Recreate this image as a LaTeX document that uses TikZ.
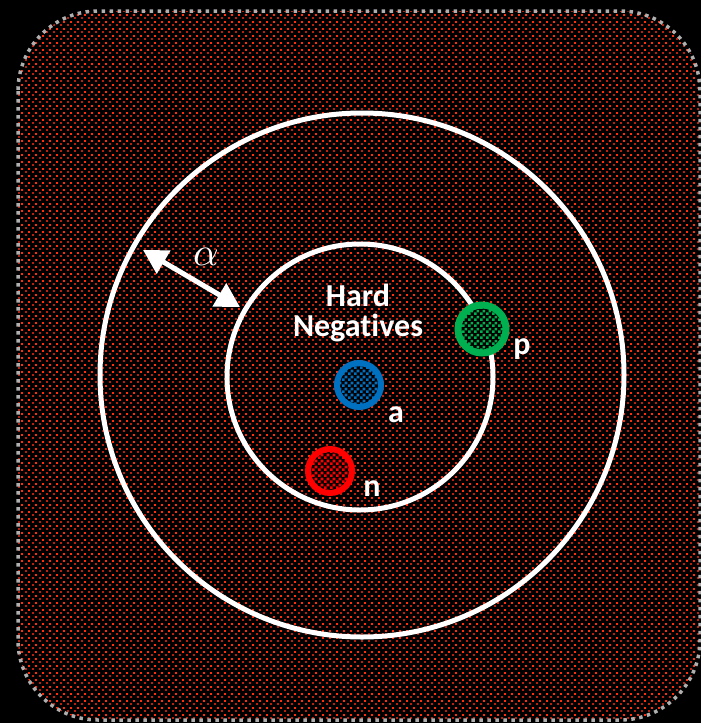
\documentclass[tikz,border=0pt]{standalone}
\usepackage{fontspec}
\setmainfont{Carlito}[Ligatures=NoCommon]
\usepackage{tikz}
\usetikzlibrary{positioning,calc}
\usetikzlibrary{arrows.meta,patterns,patterns.meta}
\definecolor{DotRed}{RGB}{255,45,10}
\definecolor{DotDim}{RGB}{185,32,14}
\definecolor{PtBlue}{RGB}{0,112,192}
\definecolor{PtGreen}{RGB}{0,176,80}
\definecolor{PtRed}{RGB}{255,0,0}
\definecolor{EdgeGray}{RGB}{175,175,175}

\tikzdeclarepattern{
  name=reddots,
  type=colored,
  bottom left={(-.1pt,-.1pt)},
  top right={(7.1pt,7.1pt)},
  tile size={(7pt,7pt)},
  code={
    \fill[DotRed] (0pt,0pt) rectangle (2.4pt,2.4pt);
    \fill[DotDim] (3.5pt,3.5pt) rectangle (5.8pt,5.8pt);
  }
}
\tikzdeclarepattern{
  name=finechecker,
  type=uncolored,
  bottom left={(0pt,0pt)},
  top right={(6pt,6pt)},
  tile size={(6pt,6pt)},
  code={
    \fill (0pt,0pt) rectangle (3pt,3pt);
    \fill (3pt,3pt) rectangle (6pt,6pt);
  }
}

\begin{document}
\begin{tikzpicture}[x=1pt,y=-1pt,
    ring/.style={draw=white,line width=5pt},
    point/.style={circle,line width=6pt,minimum size=44pt,inner sep=0pt,preaction={fill=black}},
    lbl/.style={text=white,font=\fontsize{32}{34}\selectfont\bfseries}]
				\fill[black] (0,0) rectangle (701,723);
				\useasboundingbox (0,0) rectangle (701,723);
				
				% rounded field
				\draw[EdgeGray,line width=3.5pt,dash pattern=on 3.5pt off 4.5pt,rounded corners=80pt,pattern=reddots]
				(18,11) rectangle (700,720);
				
				\coordinate (c) at (362,375);
				\draw[ring] (c) circle (262);
				\draw[ring] (360,377) circle (133);
				
				% margin
				\coordinate (m1) at (143,250);
				\coordinate (m2) at (240,307);
				\draw[white,line width=5pt,{Triangle[length=24pt,width=26pt]}-{Triangle[length=24pt,width=26pt]}] (m1)--(m2);
				\node[text=white,scale=4] (alpha) at (206,257) {$\alpha$};
				
				\node[lbl,align=center] (hard) at (358,313) {Hard\\[-4pt]Negatives};
				
				\node[point,draw=PtBlue,pattern=finechecker,pattern color=PtBlue] (a) at (359,385) {};
				\node[point,draw=PtGreen,pattern=finechecker,pattern color=PtGreen,minimum size=48pt,line width=7pt] (p) at (482,329) {};
				\node[point,draw=PtRed,pattern=finechecker,pattern color=PtRed] (n) at (330,471) {};
				
				\node[lbl] (la) at (396,415) {a};
				\node[lbl] (lp) at (522,349) {p};
				\node[lbl] (ln) at (372,489) {n};
			\end{tikzpicture}
\end{document}
